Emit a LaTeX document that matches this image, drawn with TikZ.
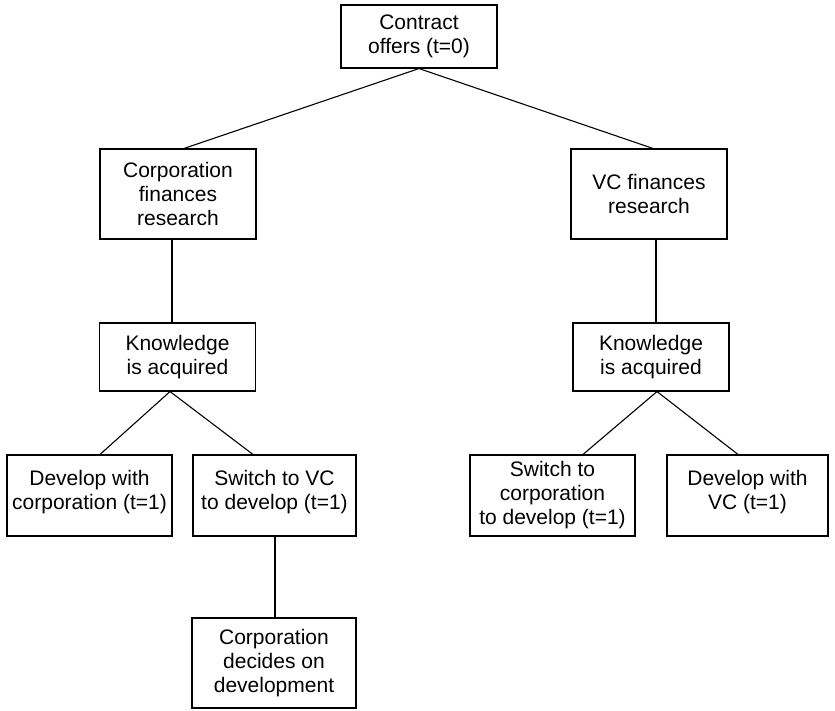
\documentclass[tikz,border=0pt]{standalone}
\usepackage{fontspec}
\setmainfont{Liberation Sans}
\begin{document}
\begin{tikzpicture}[x=1pt,y=-1pt,
  box/.style={draw, line width=1.1pt, align=center, inner sep=0pt, font=\fontsize{21}{24}\selectfont},
  lowbox/.style={box, text depth=12pt},
  link/.style={line width=1.1pt}]
\useasboundingbox (0,0) rectangle (835,710);
\node[box, minimum width=156pt, minimum height=63pt] (top) at (419,36.5) {Contract\\offers (t=0)};
\node[box, minimum width=156pt, minimum height=90pt] (corp) at (178,194) {Corporation\\finances\\research};
\node[box, minimum width=156pt, minimum height=90pt] (vc) at (649,194) {VC finances\\research};
\node[box, minimum width=156pt, minimum height=68pt] (know1) at (177.5,357) {Knowledge\\is acquired};
\node[box, minimum width=156pt, minimum height=68pt] (know2) at (651,357) {Knowledge\\is acquired};
\node[lowbox, minimum width=165pt, minimum height=81pt] (dwc) at (89.5,495.5) {Develop with\\corporation (t=1)};
\node[lowbox, minimum width=163pt, minimum height=81pt] (sw) at (274.5,495.5) {Switch to VC\\to develop (t=1)};
\node[box, minimum width=165pt, minimum height=81pt] (swc) at (552.5,495.5) {Switch to\\corporation\\to develop (t=1)};
\node[lowbox, minimum width=161pt, minimum height=81pt] (dvc) at (747.5,495.5) {Develop with\\VC (t=1)};
\node[box, minimum width=164pt, minimum height=90pt] (cdd) at (274,663) {Corporation\\decides on\\development};
\draw[link] (top.south) -- ([xshift=6pt]corp.north);
\draw[link] (top.south) -- ([xshift=4pt]vc.north);
\draw[link] ([xshift=-6pt]corp.south) -- ([xshift=-5.5pt]know1.north);
\draw[link] ([xshift=7pt]vc.south) -- ([xshift=5pt]know2.north);
\draw[link] ([xshift=-7.5pt]know1.south) -- ([xshift=10.5pt]dwc.north);
\draw[link] ([xshift=-7.5pt]know1.south) -- ([xshift=-21.5pt]sw.north);
\draw[link] ([xshift=6pt]know2.south) -- ([xshift=30.5pt]swc.north);
\draw[link] ([xshift=6pt]know2.south) -- ([xshift=-9.5pt]dvc.north);
\draw[link] ([xshift=0.5pt]sw.south) -- ([xshift=1pt]cdd.north);
\end{tikzpicture}
\end{document}
